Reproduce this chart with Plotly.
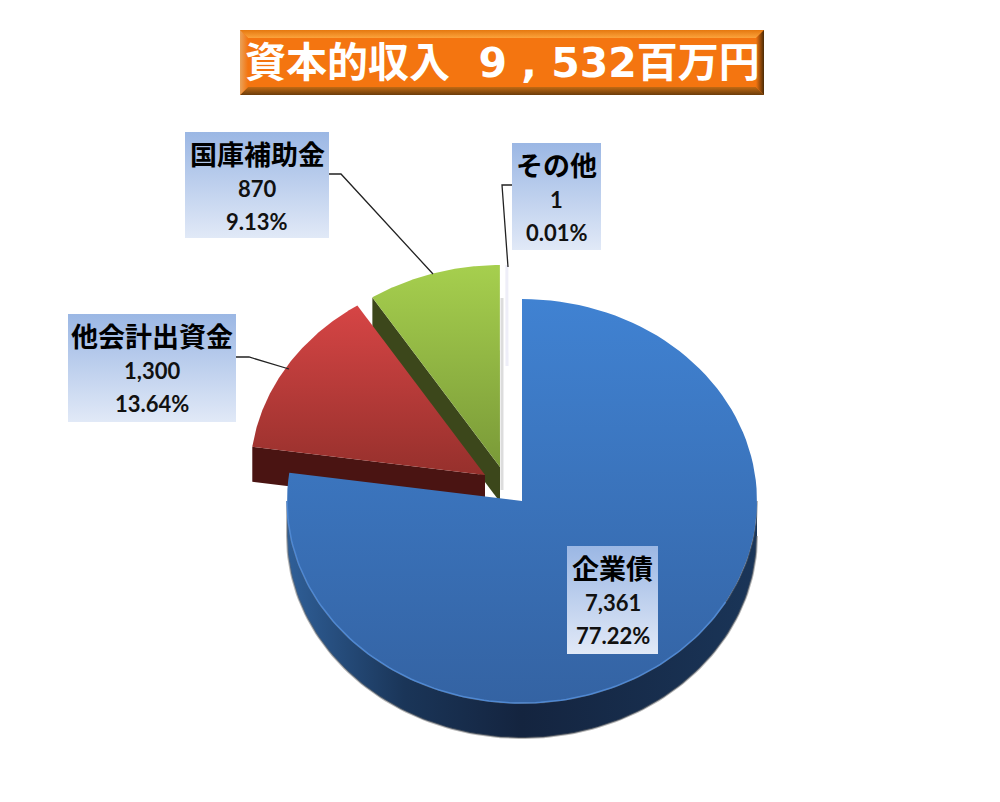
import numpy as np
import plotly.graph_objects as go

# data
categories = ['企業債', '他会計出資金', '国庫補助金', 'その他']
values = [7361, 1300, 870, 1]
chart_title = '<b>資本的収入  9 , 532百万円</b>'

total = sum(values)
shares = np.cumsum([0] + values) / total * 360

# page pixels are used as axis units, the pie is squashed like the original
RX, RY, DEPTH = 235, 202, 35
centers = [(522, 501), (485, 475), (500, 467), (507, 467)]
top_colors = [('#4082d2', '#3463a3'), ('#d64545', '#96302c'), ('#a6cf4e', '#7a9a38'), ('#f4f4fa', '#f4f4fa')]
side_colors = ['#162744', '#4a1412', '#3c471b', '#ffffff']

boxes = [(567, 658, 546, 654), (68, 236, 314, 422), (185, 329, 132, 238), (512, 601, 143, 250)]
leaders = [None,
           ([236, 249, 289], [357, 357, 369]),
           ([329, 341, 433], [174, 174, 274]),
           ([512, 502, 508], [185, 185, 267])]

fig = go.Figure()


def arc(i, a, b, n=120):
    t = np.radians(np.linspace(a, b, n))
    cx, cy = centers[i]
    return cx + RX * np.sin(t), cy - RY * np.cos(t)


def poly(x, y, c1, c2=None, kind='vertical', line=None, lw=0):
    c2 = c2 or c1
    # y axis runs downwards, so the vertical gradient has to be given bottom first
    stops = [[0, c2], [1, c1]] if kind == 'vertical' else [[0, c1], [1, c2]]
    fig.add_trace(go.Scatter(x=list(x), y=list(y), mode='lines', fill='toself',
                             fillgradient=dict(type=kind, colorscale=stops),
                             line=dict(width=lw, color=line or c1), hoverinfo='skip', showlegend=False))


def cut_face(i, angle, color):
    # flat face left by pulling the slice out
    cx, cy = centers[i]
    ax, ay = arc(i, angle, angle, 1)
    poly([ax[0], cx, cx, ax[0], ax[0]],
         [ay[0], cy, cy + DEPTH, ay[0] + DEPTH, ay[0]], color)


# almost invisible slice, only the outer half shows
sx, sy = arc(3, shares[3], shares[4], 4)
fig.add_trace(go.Scatter(x=[centers[3][0], sx[0]], y=[centers[3][1] - RY * 0.5, sy[0]], mode='lines',
                         line=dict(color='#eeeef8', width=3), hoverinfo='skip', showlegend=False))

# grey edge right of the green slice
fig.add_trace(go.Scatter(x=[502, 502], y=[298, 490], mode='lines',
                         line=dict(color='#dcdcdc', width=3), hoverinfo='skip', showlegend=False))

# green
cut_face(2, shares[2], side_colors[2])
x, y = arc(2, shares[2], shares[3])
poly(np.r_[centers[2][0], x], np.r_[centers[2][1], y], *top_colors[2])

# red
cut_face(1, shares[1], side_colors[1])
x, y = arc(1, shares[1], shares[2])
poly(np.r_[centers[1][0], x], np.r_[centers[1][1], y], *top_colors[1])

# blue rim, then top
x, y = arc(0, 90, 270)
poly(np.r_[x, x[::-1]], np.r_[y, y[::-1] + DEPTH], '#2f5f98', '#1a3a60', 'horizontal', 'rgba(110,110,110,0.5)', 2)
fig.data[-1].fillgradient.colorscale = [[0, '#2f5f98'], [0.25, '#1a3558'], [0.5, '#14243f'], [1, '#1a3558']]
x, y = arc(0, shares[0], shares[1])
poly(np.r_[centers[0][0], x, centers[0][0]], np.r_[centers[0][1], y, centers[0][1]], *top_colors[0])

# light line along the front of the blue top
x, y = arc(0, 120, 270)
fig.add_trace(go.Scatter(x=x, y=y, mode='lines', line=dict(color='#4f88d2', width=1.5),
                         hoverinfo='skip', showlegend=False))

# leader lines
for lead in leaders:
    if lead:
        fig.add_trace(go.Scatter(x=lead[0], y=lead[1], mode='lines', line=dict(color='#222222', width=1.3),
                                 hoverinfo='skip', showlegend=False))

# label boxes and text
for name, v, (x0, x1, y0, y1) in zip(categories, values, boxes):
    poly([x0, x1, x1, x0, x0], [y0, y0, y1, y1, y0], '#9bb7e4', '#e1e9f7')
    xc = (x0 + x1) / 2
    fig.add_annotation(x=xc, y=y0 + 21, text=f'<b>{name}</b>', showarrow=False,
                       font=dict(family='Noto Sans CJK JP', size=27, color='#000000'))
    fig.add_annotation(x=xc, y=y0 + 56, text=f'<b>{v:,}</b>', showarrow=False,
                       font=dict(family='Lato', size=22, color='#111111'))
    fig.add_annotation(x=xc, y=y0 + 89, text=f'<b>{v / total:.2%}</b>', showarrow=False,
                       font=dict(family='Lato', size=22, color='#111111'))

# title plate with bevel
L, R, T, B, W = 240, 764, 30, 95, 8
poly([L, R, R, L, L], [T, T, B, B, T], '#f47510')
poly([L, R, R - W, L + W, L], [T, T, T + W, T + W, T], '#e5780f', '#fba33c')
poly([L, R, R - W, L + W, L], [B, B, B - W, B - W, B], '#c06a14', '#6b3c0a')
poly([L, L + W, L + W, L, L], [T, T + W, B - W, B, T], '#e9a25a', '#f47510', 'horizontal')
poly([R, R - W, R - W, R, R], [T, T + W, B - W, B, T], '#f47510', '#4a2a06', 'horizontal')
fig.add_annotation(x=(L + R) / 2, y=(T + B) / 2, text=chart_title, showarrow=False,
                   font=dict(family='DejaVu Sans, Noto Sans CJK JP', size=41, color='#ffffff'))

# the page body has an 8px margin, the ranges take that off again
fig.update_layout(width=1000, height=802, margin=dict(l=0, r=0, t=0, b=0),
                  paper_bgcolor='white', plot_bgcolor='white', showlegend=False,
                  xaxis=dict(range=[8, 1008], visible=False, fixedrange=True),
                  yaxis=dict(range=[810, 8], visible=False, fixedrange=True))

fig.write_html("out.html")
